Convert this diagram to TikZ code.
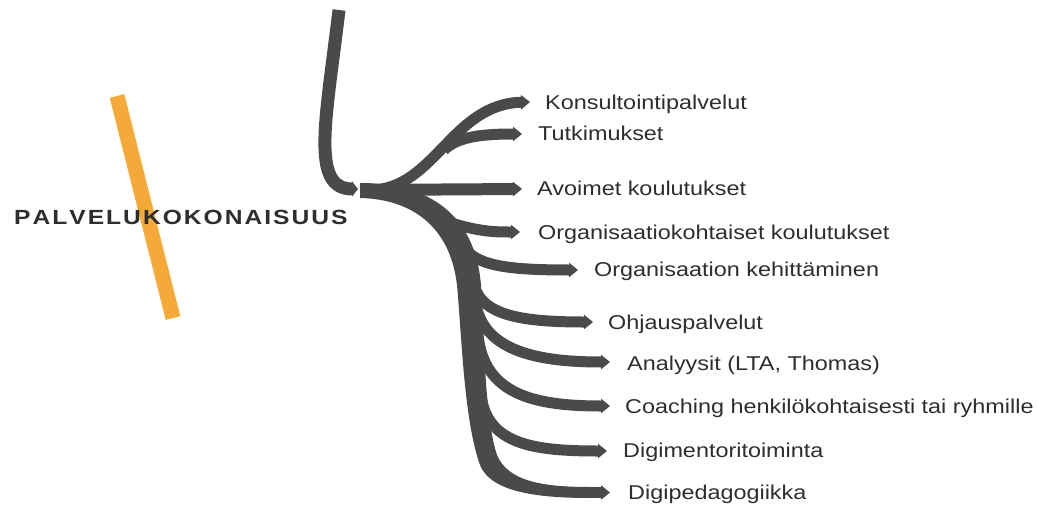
\documentclass[tikz,border=0pt]{standalone}
\usepackage{fontspec}
\setmainfont{Liberation Sans}
\newfontfamily\labfont[FakeStretch=1.17]{Liberation Sans}
\newfontfamily\titfont[FakeStretch=1.2]{Liberation Sans Bold}
\usetikzlibrary{arrows.meta}
\definecolor{branchgray}{HTML}{4A4A4A}
\definecolor{barorange}{HTML}{F5A938}
\definecolor{txtgray}{HTML}{2E2E2E}
\newcommand{\tk}{\kern2pt}
\begin{document}
\begin{tikzpicture}[x=1pt,y=-1pt,
  br/.style={draw=branchgray, line width=11pt, -{Triangle[width=14pt,length=9pt]}},
  lab/.style={anchor=base west, inner sep=0pt, text=txtgray, font=\labfont\fontsize{20}{24}\selectfont}]
\useasboundingbox (0,0) rectangle (1038,506);
\fill[white] (0,0) rectangle (1038,506);

% orange bar
\coordinate (ob1) at (117,96);
\coordinate (ob2) at (173,318);
\draw[barorange, line width=15pt] (ob1) -- (ob2);

% title
\node[anchor=base west, inner sep=0pt, text=txtgray, font=\titfont\fontsize{20.5}{24}\selectfont] (title) at (14,224.5)
  {P\tk A\tk L\tk V\tk E\tk L\tk U\tk K\tk O\tk K\tk O\tk N\tk A\tk I\tk S\tk U\tk U\tk S};

% coordinates
\coordinate (j0) at (339,10);
\coordinate (hub) at (358,189);
\coordinate (h0) at (360,190);
\coordinate (t1) at (530,102);
\coordinate (t2) at (522,134);
\coordinate (t3) at (522,189);
\coordinate (t4) at (520,232);
\coordinate (t5) at (578,270);
\coordinate (t6) at (593,322);
\coordinate (t7) at (610,362);
\coordinate (t8) at (610,406);
\coordinate (t9) at (607,451);
\coordinate (t10) at (610,492.5);
\coordinate (e10) at (585,492.5);

% incoming J stroke
\draw[draw=branchgray, line width=13pt, -{Triangle[width=15pt,length=6pt]}] (j0) .. controls (326,120) and (310,189) .. (hub);

% trunk (tapering filled body)
\fill[branchgray] (360,198) .. controls (410,199) and (450,225) .. (457,285)
   .. controls (462,340) and (464,420) .. (480,465)
   .. controls (490,490) and (530,498) .. (590,498)
   -- (590,487) .. controls (545,487) and (508,482) .. (497,455)
   .. controls (485,420) and (484,340) .. (481,285)
   .. controls (475,215) and (430,183) .. (360,183) -- cycle;
\draw[br] (e10) -- (t10);

% upper branches
\draw[br] (372,190) .. controls (435,188) and (452,104) .. (t1);
\draw[br] (444,150) .. controls (458,136) and (485,134) .. (t2);
\draw[br, line width=12pt] (h0) -- (t3);

% lower branches
\draw[br] (448,222) .. controls (480,232) and (495,232) .. (t4);
\draw[br] (466,250) .. controls (480,266) and (510,270) .. (t5);
\draw[br] (474,285) .. controls (482,315) and (520,322) .. (t6);
\draw[br] (476,305) .. controls (485,352) and (540,362) .. (t7);
\draw[br] (478,335) .. controls (484,395) and (535,406) .. (t8);
\draw[br] (481,395) .. controls (487,445) and (535,451) .. (t9);

% labels
\node[lab] (l1) at (545,109) {Konsultointipalvelut};
\node[lab] (l2) at (538,140) {Tutkimukset};
\node[lab] (l3) at (537,195) {Avoimet koulutukset};
\node[lab] (l4) at (538,239) {Organisaatiokohtaiset koulutukset};
\node[lab] (l5) at (594,276) {Organisaation kehittäminen};
\node[lab] (l6) at (608,329) {Ohjauspalvelut};
\node[lab] (l7) at (627,370) {Analyysit (LTA, Thomas)};
\node[lab] (l8) at (625,413) {Coaching henkilökohtaisesti tai ryhmille};
\node[lab] (l9) at (623,457) {Digimentoritoiminta};
\node[lab] (l10) at (628,499) {Digipedagogiikka};
\end{tikzpicture}
\end{document}
